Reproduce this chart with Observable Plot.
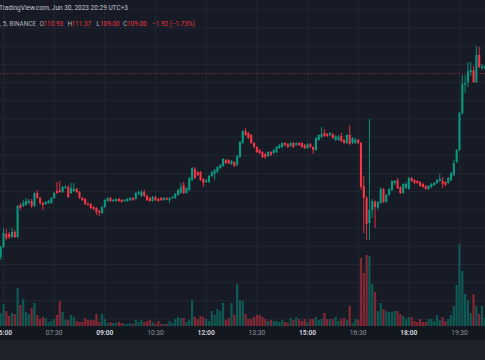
<!DOCTYPE html>
<html><head><meta charset="utf-8">
<script src="https://cdn.jsdelivr.net/npm/d3@7"></script>
<script src="https://cdn.jsdelivr.net/npm/@observablehq/plot@0.6"></script>
<style>
html,body{margin:0;padding:0;background:#171b26;}
#wrap{position:relative;width:485px;height:360px;overflow:hidden;background:#171b26;font-family:Roboto,"Noto Sans",sans-serif;}
#axisband{position:absolute;left:0;top:326px;width:485px;height:14px;background:#131720;}
#footband{position:absolute;left:0;top:340px;width:485px;height:20px;background:#1e222b;}
.layer{position:absolute;left:0;top:0;}
.layer svg{display:block;max-width:none;background:transparent;}
.hdr{position:absolute;white-space:nowrap;}
</style></head><body>
<div id="wrap">
  <div id="axisband"></div><div id="footband"></div>
  <div id="grid" class="layer"></div>
  <div id="vol" class="layer"></div>
  <div id="candles" class="layer"></div>
  <div id="header"></div>
</div>
<script>
// 5-minute candles, 05:55 .. 20:15
const firstTime = new Date("2023-06-30T05:55:00Z");
const openP = [98.39,98.93,99.65,99.65,99.48,99.76,99.48,101.24,101.19,101.24,101.35,101.46,101.19,101.90,101.63,101.35,101.30,101.35,101.35,101.63,102.01,102.07,101.96,102.18,102.23,101.90,102.01,102.12,101.96,101.63,101.57,101.30,101.30,101.13,101.08,100.91,100.80,101.13,101.46,101.63,101.46,101.46,101.57,101.52,101.46,101.46,101.52,101.63,101.57,101.85,101.74,101.96,101.74,101.63,101.46,101.68,101.57,101.63,101.52,101.63,101.52,101.63,101.63,101.79,101.90,102.34,101.90,102.07,102.61,103.22,103.05,103.05,102.67,102.51,102.51,102.83,102.94,103.05,103.27,103.38,103.71,103.71,103.49,103.60,103.44,103.88,104.65,105.31,105.20,105.09,104.65,104.43,104.26,104.15,104.04,103.93,104.15,104.10,104.15,104.37,104.43,104.65,104.59,104.48,104.65,104.54,104.65,104.65,104.54,104.37,104.59,104.43,104.26,104.81,104.98,105.20,105.14,105.09,105.14,104.81,104.81,105.03,104.81,104.65,105.09,104.65,104.65,104.81,104.65,102.29,101.63,100.25,100.97,101.41,101.08,101.35,102.12,101.41,101.79,102.07,102.45,102.61,102.23,101.90,102.18,102.12,102.72,102.61,102.56,102.51,102.40,102.29,102.12,102.23,102.34,102.45,102.56,102.56,102.51,102.45,102.61,102.89,103.60,104.26,106.30,107.86,108.00,108.55,108.66,108.00,109.48,108.77,108.77];
const highP = [98.99,99.98,99.92,99.76,99.98,99.87,101.24,101.35,101.52,101.63,101.57,101.57,101.96,102.07,101.68,101.41,101.46,101.52,101.68,101.96,102.51,102.56,102.29,102.34,102.34,102.45,102.45,102.18,102.01,101.68,101.63,101.41,101.35,101.19,101.13,100.97,101.19,101.57,101.68,101.68,101.57,101.63,101.63,101.57,101.57,101.63,101.68,101.68,101.96,102.01,102.07,102.07,101.79,101.68,101.74,101.74,101.63,101.68,101.68,101.68,101.68,101.74,101.90,102.12,102.45,102.51,102.23,102.78,103.33,103.33,103.11,103.11,102.72,102.67,102.89,103.11,103.22,103.38,103.49,103.82,103.77,103.77,103.71,103.66,103.99,104.76,105.36,105.47,105.25,105.14,104.70,104.48,104.32,104.21,104.10,104.21,104.21,104.32,104.48,104.59,104.70,104.70,104.65,104.70,104.70,104.70,104.70,104.70,104.59,104.65,104.65,104.48,104.98,105.14,105.53,105.42,105.20,105.25,105.20,105.09,105.09,105.20,104.87,105.14,105.64,104.98,104.92,104.87,104.70,102.83,101.74,105.97,101.57,101.52,101.46,102.23,102.18,101.85,102.18,102.61,102.61,102.72,102.29,102.45,102.51,102.78,102.78,102.67,102.61,102.56,102.45,102.34,102.34,102.45,102.51,102.67,102.94,102.78,102.56,102.78,103.05,103.71,104.32,106.35,108.38,108.38,109.10,109.10,108.88,109.98,109.92,108.99,108.93];
const lowP = [98.22,98.88,99.32,99.37,99.43,99.43,99.43,100.97,101.13,101.19,101.30,101.08,101.13,101.57,101.24,100.97,101.24,101.30,101.30,101.57,101.85,101.90,101.90,102.12,101.63,101.85,101.96,101.90,101.57,101.46,101.24,101.19,101.02,100.97,100.69,100.64,100.75,101.08,101.41,101.41,101.41,101.41,101.41,101.35,101.41,101.41,101.46,101.46,101.52,101.79,101.68,101.68,101.46,101.41,101.41,101.46,101.41,101.46,101.46,101.52,101.35,101.57,101.57,101.74,101.85,101.85,101.85,102.01,102.56,102.67,102.83,102.56,102.23,102.45,102.45,102.78,102.61,103.00,103.22,103.33,103.49,103.49,103.44,103.33,103.38,103.82,104.59,105.03,104.87,104.59,104.37,104.10,104.04,103.82,103.77,103.88,103.93,104.04,104.10,104.32,104.37,104.48,104.37,104.43,104.37,104.48,104.48,104.37,104.32,104.32,104.37,104.04,104.21,104.76,104.92,104.98,104.98,105.03,104.87,104.76,104.76,104.70,104.59,104.59,104.54,104.59,104.59,104.59,102.07,99.70,99.32,99.32,100.53,99.98,100.97,101.30,101.35,101.35,101.74,102.01,102.34,102.12,101.85,101.85,102.12,102.07,102.51,102.40,102.40,102.23,102.18,102.07,102.07,102.18,102.29,102.40,102.51,102.18,102.29,102.40,102.56,102.83,103.55,104.21,106.19,107.40,107.72,108.33,107.94,107.94,108.77,108.66,108.71];
const closeP = [98.93,99.70,99.43,99.48,99.76,99.48,101.19,101.08,101.35,101.46,101.46,101.19,101.90,101.63,101.35,101.24,101.41,101.46,101.63,101.90,101.90,101.96,102.23,102.23,101.68,102.18,102.12,101.96,101.63,101.52,101.30,101.24,101.08,101.02,100.86,100.80,101.13,101.52,101.63,101.46,101.52,101.57,101.46,101.41,101.52,101.57,101.63,101.52,101.90,101.96,101.96,101.74,101.52,101.46,101.68,101.52,101.46,101.52,101.63,101.54,101.63,101.68,101.85,102.07,102.23,101.90,102.18,102.72,103.27,102.72,102.89,102.61,102.45,102.61,102.83,103.05,103.16,103.33,103.44,103.77,103.55,103.52,103.66,103.38,103.93,104.70,105.31,105.09,104.92,104.65,104.43,104.15,104.10,103.88,103.88,104.15,103.99,104.26,104.43,104.54,104.65,104.54,104.43,104.65,104.43,104.65,104.54,104.43,104.37,104.59,104.43,104.26,104.92,105.09,105.14,105.03,105.03,105.20,104.92,105.03,105.00,104.76,104.65,105.09,104.59,104.92,104.84,104.65,102.23,101.63,100.20,100.97,101.46,101.13,101.41,102.12,101.41,101.79,102.12,102.56,102.56,102.18,101.90,102.40,102.40,102.72,102.56,102.45,102.45,102.29,102.23,102.12,102.29,102.40,102.45,102.61,102.67,102.40,102.34,102.72,103.00,103.55,104.26,106.30,107.89,107.94,108.60,108.66,108.00,109.48,108.82,108.88,108.85];
const volume = [13,22,15,10,13,12,38,21,27,14,12,18,23,11,7,9,8,4,5,7,11,25,14,6,6,11,9,5,4,4,8,6,6,6,12,4,12,7,3,4,3,3,4,3,2,2,3,2,6,4,6,4,5,6,4,2,5,2,2,2,5,3,7,9,8,8,4,6,26,9,7,10,9,7,5,15,11,17,15,23,6,8,23,11,42,26,25,12,7,
  7,9,11,11,9,7,5,6,5,5,4,6,4,3,8,6,9,7,5,7,4,7,7,9,6,7,13,7,7,7,9,5,7,8,6,20,3,7,6,68,53,71,70,42,34,15,23,17,15,14,14,15,15,12,10,7,9,9,5,4,7,4,4,7,7,5,11,6,9,5,7,11,20,41,82,55,32,26,13,32,20,12,20,8];
const lastPrice = 108.49;
const tickLabels = ["06:00","07:30","09:00","10:30","12:00","13:30","15:00","16:30","18:00","19:30"];
const tickBold = [true,false,true,false,true,false,true,false,true,false];
const priceGrid = [95,96,97,98,99,100,101,102,103,104,105,106,107,108,109,110,111,112];

const UP = "#089981", DOWN = "#f23645";
const VUP = "#0f5953", VDOWN = "#842835";
const GRID = "#232733";

const data = openP.map((o, i) => ({
  t: d3.utcMinute.offset(firstTime, 5 * i),
  open: o, high: highP[i], low: lowP[i], close: closeP[i], vol: volume[i]
}));
const tickDates = tickLabels.map(s => new Date(`2023-06-30T${s}:00Z`));
const boldTicks = tickDates.filter((d, i) => tickBold[i]);
const thinTicks = tickDates.filter((d, i) => !tickBold[i]);

const xScale = {type: "utc", domain: [new Date("2023-06-30T05:54:40Z"), new Date("2023-06-30T20:16:12Z")], axis: null};
const priceDomain = [94.593, 112.505];
const W = 485, CH = 326;
const bg = "background:transparent;overflow:visible;";

// grid layer
document.getElementById("grid").append(Plot.plot({
  width: W, height: CH, margin: 0, style: bg,
  x: xScale, y: {domain: priceDomain, axis: null},
  marks: [
    Plot.gridX(tickDates, {stroke: GRID, strokeOpacity: 1}),
    Plot.gridY(priceGrid, {stroke: GRID, strokeOpacity: 1})
  ]
}));

// volume + time axis layer
document.getElementById("vol").append(Plot.plot({
  width: W, height: 360, marginTop: 0, marginLeft: 0, marginRight: 0, marginBottom: 360 - CH, style: bg,
  x: xScale, y: {domain: [0, CH], axis: null}, color: {type: "identity"},
  marks: [
    Plot.ruleX(data, {x: "t", y1: 0, y2: "vol", stroke: d => d.close >= d.open ? VUP : VDOWN, strokeWidth: 2.2}),
    Plot.axisX(boldTicks, {label: null, tickSize: 0, tickPadding: 3.5, tickFormat: d3.utcFormat("%H:%M"), fontWeight: "bold", fontSize: 6.7, color: "#c9ccd3", fontFamily: "Roboto"}),
    Plot.axisX(thinTicks, {label: null, tickSize: 0, tickPadding: 3.5, tickFormat: d3.utcFormat("%H:%M"), fontSize: 6.7, color: "#8f939c", fontFamily: "Roboto"})
  ]
}));

// candle layer
document.getElementById("candles").append(Plot.plot({
  width: W, height: CH, margin: 0, style: bg,
  x: xScale, y: {domain: priceDomain, axis: null}, color: {type: "identity"},
  marks: [
    Plot.ruleY([lastPrice], {stroke: "#6b2a36", strokeOpacity: 1, strokeDasharray: "2,1.2"}),
    Plot.ruleX(data, {x: "t", y1: "low", y2: "high", stroke: d => d.close >= d.open ? UP : DOWN, strokeWidth: 0.9}),
    Plot.ruleX(data, {x: "t", y1: d => Math.max(d.open, d.close), y2: d => Math.min(d.open, d.close), stroke: d => d.close >= d.open ? UP : DOWN, strokeWidth: 2.1})
  ]
}));

// header
const hdr = document.getElementById("header");
function addText(txt, x, cy, size, color) {
  const s = document.createElement("div");
  s.className = "hdr";
  s.textContent = txt;
  s.style.left = x + "px";
  s.style.top = (cy - size / 2) + "px";
  s.style.fontSize = size + "px";
  s.style.lineHeight = size + "px";
  s.style.color = color;
  hdr.append(s);
}
const G = "#b2b5be", R = "#f23645";
const F2 = 6.4;
addText("TradingView.com, Jun 30, 2023 20:29 UTC+3", -1, 8.5, 6.5, "#c3c6cd");
addText(", 5, BINANCE", 0, 24, F2, G);
addText("O", 39.5, 24, F2, G); addText("110.93", 43.5, 24, F2, R);
addText("H", 67.5, 24, F2, G);   addText("111.37", 71.5, 24, F2, R);
addText("L", 96.5, 24, F2, G); addText("109.00", 100, 24, F2, R);
addText("C", 123, 24, F2, G); addText("109.00", 127, 24, F2, R);
addText("\u22121.92 (\u22121.73%)", 152, 24, F2, R);
</script>
</body></html>
